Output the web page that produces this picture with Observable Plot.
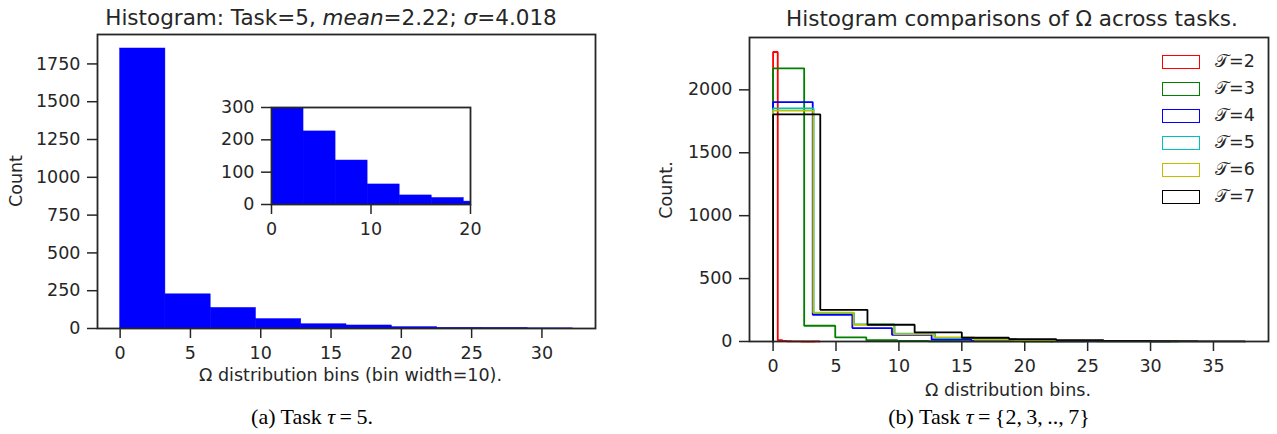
<!DOCTYPE html>
<html><head><meta charset="utf-8">
<script src="https://cdn.jsdelivr.net/npm/d3@7"></script>
<script src="https://cdn.jsdelivr.net/npm/@observablehq/plot@0.6"></script>
<style>
body{margin:0;background:#fff;}
#root{position:relative;width:1277px;height:434px;overflow:hidden;font-family:"DejaVu Sans",sans-serif;color:#262626;background:#fff;}
.abs{position:absolute;white-space:nowrap;line-height:1;}
.ttl{font-size:21.5px;}
.lbl{font-size:17.5px;}
.cap{font-family:"Liberation Serif","Times New Roman",serif;font-size:22px;color:#000;}
.eq{margin:0 0.2em;}
svg{overflow:visible;}
</style></head><body><div id="root"></div>
<script>
// ---------- data ----------
// Left panel: Task 5 histogram, 10 equal bins over [0, task5Max]
const task5Max = 32.2;
const task5Counts = [1852, 226, 136, 62, 28, 20, 9, 3, 2, 1];
const leftXTicks = [0, 5, 10, 15, 20, 25, 30];
const leftYTicks = [0, 250, 500, 750, 1000, 1250, 1500, 1750];
const insetXTicks = [0, 10, 20];
const insetYTicks = [0, 100, 200, 300];

// Right panel: step histograms per task (10 bins over [0, max])
const taskNames = ["2", "3", "4", "5", "6", "7"];
const taskColors = ["#ff0000", "#008000", "#0000ff", "#00bfbf", "#bfbf00", "#000000"];
const taskMax = [3.7, 24.7, 31.5, 32.2, 32.0, 37.5];
const countsT2 = [2301, 10, 4, 2, 1, 1, 0, 0, 0, 1];
const countsT3 = [2171, 125, 32, 10, 4, 2, 1, 1, 0, 1];
const countsT4 = [1903, 212, 107, 53, 16, 6, 3, 2, 1, 1];
const countsT5 = [1852, 226, 136, 62, 28, 20, 9, 3, 2, 1];
const countsT6 = [1835, 229, 133, 58, 32, 14, 6, 3, 1, 1];
const countsT7 = [1805, 252, 133, 72, 30, 19, 11, 4, 2, 1];
const taskCounts = [countsT2, countsT3, countsT4, countsT5, countsT6, countsT7];
const rightXTicks = [0, 5, 10, 15, 20, 25, 30, 35];
const rightYTicks = [0, 500, 1000, 1500, 2000];

// ---------- helpers ----------
const ink = "#262626";
const fmt = d => `${d}`;
function bins(max, counts) {
  const n = counts.length;
  return counts.map((c, i) => ({x1: max * i / n, x2: max * (i + 1) / n, y: c}));
}
function stepPoints(max, counts) {
  const pts = [{x: 0, y: 0}];
  bins(max, counts).forEach(b => { pts.push({x: b.x1, y: b.y}, {x: b.x2, y: b.y}); });
  pts.push({x: max, y: 0});
  return pts;
}
function axes(xt, yt, fs) {
  return [
    Plot.axisX(xt, {tickSize: 10, tickPadding: 8, tickFormat: fmt, label: null, strokeWidth: 1.5, fontSize: fs}),
    Plot.axisY(yt, {tickSize: 10, tickPadding: 7, tickFormat: fmt, label: null, strokeWidth: 1.5, fontSize: fs})
  ];
}
const root = document.getElementById("root");
function place(node, left, top) {
  const d = document.createElement("div");
  d.className = "abs";
  d.style.left = left + "px"; d.style.top = top + "px";
  d.appendChild(node);
  root.appendChild(d);
}
function text(html, cls, left, top, transform) {
  const d = document.createElement("div");
  d.className = "abs " + cls;
  d.style.left = left + "px"; d.style.top = top + "px";
  d.style.transform = transform || "translateX(-50%)";
  d.innerHTML = html;
  root.appendChild(d);
}
const style = {fontFamily: "DejaVu Sans", fontSize: "17.5px", color: ink, background: "transparent"};

// ---------- left panel ----------
const left = Plot.plot({
  width: 640, height: 400,
  marginLeft: 97, marginRight: 45, marginTop: 34, marginBottom: 72,
  x: {domain: [-0.05 * task5Max, 1.05 * task5Max]},
  y: {domain: [0, 1.05 * d3.max(task5Counts)]},
  style,
  marks: [
    Plot.rectY(bins(task5Max, task5Counts), {x1: "x1", x2: "x2", y: "y", fill: "#0000ff", stroke: "#0000ff", strokeWidth: 0.5}),
    Plot.frame({stroke: ink, strokeWidth: 1.8}),
    ...axes(leftXTicks, leftYTicks, 17.5)
  ]
});
place(left, 0, 0);

// inset
const inset = Plot.plot({
  width: 290, height: 157,
  marginLeft: 70, marginRight: 21, marginTop: 20, marginBottom: 40,
  x: {domain: [0, 20]},
  y: {domain: [0, 300]},
  style,
  marks: [
    Plot.frame({fill: "#fff"}),
    Plot.rectY(bins(task5Max, task5Counts), {x1: "x1", x2: "x2", y: "y", fill: "#0000ff", stroke: "#0000ff", strokeWidth: 0.5, clip: true}),
    Plot.frame({stroke: ink, strokeWidth: 1.8}),
    ...axes(insetXTicks, insetYTicks, 17.5)
  ]
});
place(inset, 201, 87);

// ---------- right panel ----------
const allMax = d3.max(taskMax);
const allCount = d3.max(taskCounts.flat());
const right = Plot.plot({
  width: 637, height: 400,
  marginLeft: 109, marginRight: 9, marginTop: 37, marginBottom: 59,
  x: {domain: [-0.05 * allMax, 1.05 * allMax]},
  y: {domain: [0, 1.05 * allCount]},
  style,
  marks: [
    ...taskNames.map((t, i) => Plot.line(stepPoints(taskMax[i], taskCounts[i]), {x: "x", y: "y", stroke: taskColors[i], strokeWidth: 1.8, strokeLinejoin: "miter"})),
    Plot.frame({stroke: ink, strokeWidth: 1.8}),
    ...axes(rightXTicks, rightYTicks, 17.5)
  ]
});
place(right, 640, 0);

// ---------- texts ----------
text("Histogram: Task=5, <i>mean</i>=2.22; <i>σ</i>=4.018", "ttl", 331, 6.5);
text("Histogram comparisons of Ω across tasks.", "ttl", 1012, 7.5);
text("Ω distribution bins (bin width=10).", "lbl", 350.5, 366.5);
text("Ω distribution bins.", "lbl", 1008, 381.5);
text("Count", "lbl", 17, 181, "translate(-50%,-50%) rotate(-90deg)");
text("Count.", "lbl", 666.5, 190, "translate(-50%,-50%) rotate(-90deg)");
text("(a) Task <i>τ</i><span class='eq'>=</span>5.", "cap", 312, 406);
text("(b) Task <i>τ</i><span class='eq'>=</span>{2,&thinsp;3,&thinsp;..,&thinsp;7}", "cap", 989, 406);

// legend
taskNames.forEach((t, i) => {
  const cy = 61.7 + i * 27;
  const box = document.createElement("div");
  box.className = "abs";
  box.style.cssText = `left:1162px;top:${cy - 7}px;width:38px;height:14px;box-sizing:border-box;border:1.8px solid ${taskColors[i]};background:#fff;`;
  root.appendChild(box);
  text(`𝒯=${t}`, "lbl", 1215, cy - 9, "none");
});
</script></body></html>
